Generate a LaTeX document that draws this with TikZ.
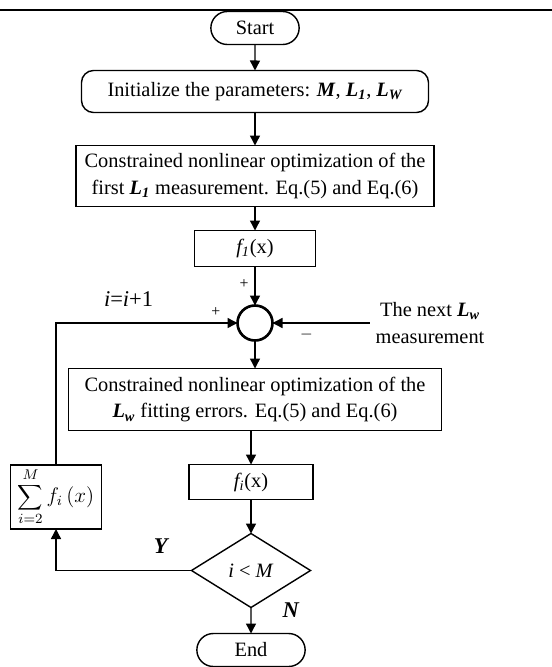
\documentclass[tikz,border=0pt]{standalone}
\usepackage{fontspec}
\setmainfont{Liberation Serif}
\usetikzlibrary{shapes.geometric, shapes.misc, arrows.meta, positioning}

\newcommand{\bi}[1]{\textbf{\textit{#1}}}

\begin{document}
\begin{tikzpicture}[
  every node/.style={font=\fontsize{11.6}{15.3}\selectfont},
  term/.style={rounded rectangle, draw, line width=0.8pt, outer sep=0pt,
               minimum width=2.4cm, minimum height=0.66cm},
  proc/.style={rectangle, draw, line width=0.8pt, outer sep=0pt, align=center, inner sep=2pt},
  junction/.style={circle, draw, line width=1.5pt, outer sep=0pt, minimum size=0.7cm, inner sep=0pt},
  decision/.style={diamond, draw, line width=0.8pt, outer sep=0pt,
                   minimum width=2.38cm, minimum height=1.48cm, inner sep=0pt},
  arr/.style={-{Triangle[length=0.2cm, width=0.2cm]}, line width=0.8pt},
  sign/.style={font=\small},
  tag/.style={font=\fontsize{12.8}{15}\selectfont}
]
\useasboundingbox (0,0) rectangle (11.04,-13.34);
\draw[line width=0.6pt] (0,-0.2) -- (11.04,-0.2);

% main column
\node[term, minimum width=2cm] (start) at (5.1,-0.56) {Start};
\node[proc, rounded corners=0.24cm, minimum width=6.94cm, minimum height=0.84cm,
      below=0.52cm of start] (init)
  {Initialize the parameters: \bi{M},\ \bi{L\textsubscript{1}},\ \bi{L\textsubscript{W}}};
\node[proc, minimum width=7.16cm, minimum height=1.22cm, below=0.66cm of init] (first)
  {Constrained nonlinear optimization of the\\
   first \bi{L\textsubscript{1}} measurement. Eq.(5) and Eq.(6)};
\node[proc, minimum width=2.42cm, minimum height=0.72cm, below=0.48cm of first] (fone)
  {\textit{f\textsubscript{1}}(x)};
\node[junction, below=0.78cm of fone] (sum) {};
\node[proc, minimum width=7.46cm, minimum height=1.24cm, below=0.56cm of sum] (fit)
  {Constrained nonlinear optimization of the\\
   \bi{L\textsubscript{w}} fitting errors. Eq.(5) and Eq.(6)};
\node[proc, minimum width=2.48cm, minimum height=0.7cm, below=0.68cm of fit, xshift=-0.08cm] (fi)
  {\textit{f\textsubscript{i}}(x)};
\node[decision, below=0.68cm of fi] (cond) {\textit{i} < \textit{M}};
\node[term, below=0.52cm of cond] (end) {End};

% side nodes
\node[proc, minimum width=1.82cm, minimum height=1.22cm] (acc) at (1.12,-9.94)
  {$\displaystyle\sum_{i=2}^{M} f_i\left(x\right)$};
\node[align=center, right=1.94cm of sum] (next) {The next \bi{L\textsubscript{w}}\\measurement};

\draw[arr] (start) -- (init);
\draw[arr] (init) -- (first);
\draw[arr] (first) -- (fone);
\draw[arr] (fone) -- node[pos=0.45, left, sign] {+} (sum);
\draw[arr] (sum) -- (fit);
\draw[arr] (fi.north |- fit.south) -- (fi);
\draw[arr] (fi) -- (cond);
\draw[arr] (cond) -- node[pos=0.1, right=0.5cm, tag] {\bi{N}} (end);
\draw[arr] (cond.west) -| node[pos=0.11, above=0.2cm, tag] {\bi{Y}} (acc.south);
\draw[arr] (acc.north) |- node[pos=0.7, above=0.2cm, tag] {\textit{i}=\textit{i}+1}
  node[pos=0.94, above, sign] {+} (sum.west);
\draw[arr] (next.west) -- node[pos=0.65, below, sign] {$-$} (sum.east);
\end{tikzpicture}
\end{document}
